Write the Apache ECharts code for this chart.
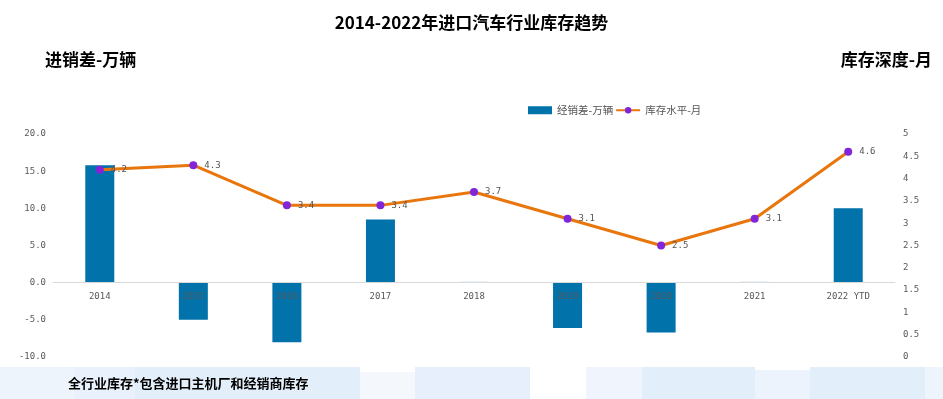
<!DOCTYPE html>
<html>
<head>
<meta charset="utf-8">
<script src="https://cdn.jsdelivr.net/npm/echarts@6/dist/echarts.min.js"></script>
<style>
html, body { margin: 0; padding: 0; background: #fff; }
#main { width: 943px; height: 399px; }
</style>
</head>
<body>
<div id="main"></div>
<script>
// 数据
var years = ["2014", "2015", "2016", "2017", "2018", "2019", "2020", "2021", "2022 YTD"];
var diffValues = [15.8, -5.0, -8.0, 8.5, 0.1, -6.1, -6.7, 0.1, 10.0];
var stockValues = [4.2, 4.3, 3.4, 3.4, 3.7, 3.1, 2.5, 3.1, 4.6];
var leftTicks = [-10, 20, 5];
var rightTicks = [0, 5, 0.5];

var monoFont = "DejaVu Sans Mono";
var cjkFont = "Noto Sans CJK SC";

var gridTop = 134, gridBottom = 42;
var gridHeight = 399 - gridTop - gridBottom;
// x 轴放到左轴 0 的位置
var zeroOffset = -(0 - leftTicks[0]) / (leftTicks[1] - leftTicks[0]) * gridHeight;

var myChart = echarts.init(document.getElementById("main"));

// 底部浅蓝色色块
var bands = [
    [0, 367, 75, 32, "#eef4fc"],
    [75, 367, 60, 32, "#e9f1fc"],
    [135, 367, 225, 32, "#e3eefb"],
    [360, 372, 55, 27, "#f4f8fd"],
    [415, 367, 115, 32, "#e6effb"],
    [586, 367, 56, 32, "#f0f5fd"],
    [642, 367, 113, 32, "#e3eefb"],
    [755, 370, 55, 29, "#edf3fc"],
    [810, 367, 115, 32, "#e3eefb"],
    [925, 367, 18, 32, "#eef4fc"]
];
var graphics = bands.map(function (b) {
    return {
        type: "rect",
        z: -10,
        shape: { x: b[0], y: b[1], width: b[2], height: b[3] },
        style: { fill: b[4] }
    };
});
graphics.push(
    {
        type: "text", left: 45, top: 51,
        style: { text: "进销差-万辆", font: "bold 17px " + cjkFont, fill: "#000" }
    },
    {
        type: "text", right: 11, top: 51,
        style: { text: "库存深度-月", font: "bold 17px " + cjkFont, fill: "#000" }
    },
    {
        type: "text", left: 68, top: 377,
        style: { text: "全行业库存*包含进口主机厂和经销商库存", font: "bold 13px " + cjkFont, fill: "#000" }
    }
);

var option = {
    backgroundColor: "#fff",
    title: {
        text: "2014-2022年进口汽车行业库存趋势",
        left: "center",
        top: 9,
        textStyle: { fontFamily: cjkFont, fontSize: 17, fontWeight: "bold", color: "#000" }
    },
    legend: {
        left: 523,
        top: 100,
        itemGap: 2,
        itemWidth: 24,
        itemHeight: 8,
        textStyle: { fontFamily: cjkFont, fontSize: 10.5, color: "#555" },
        data: [{ name: "经销差-万辆", icon: "rect" }, "库存水平-月"]
    },
    graphic: graphics,
    grid: { left: 53, right: 48, top: gridTop, bottom: gridBottom },
    xAxis: {
        type: "category",
        data: years,
        z: 5,
        offset: zeroOffset,
        axisLine: { onZero: false, lineStyle: { color: "#d9d9d9", width: 1 } },
        axisTick: { show: false },
        axisLabel: { fontFamily: monoFont, fontSize: 9, color: "#595959", margin: 9 }
    },
    yAxis: [
        {
            type: "value",
            min: leftTicks[0],
            max: leftTicks[1],
            interval: leftTicks[2],
            splitLine: { show: false },
            axisLine: { show: false },
            axisTick: { show: false },
            axisLabel: {
                fontFamily: monoFont, fontSize: 9, color: "#595959", margin: 7,
                formatter: function (v) { return v.toFixed(1); }
            }
        },
        {
            type: "value",
            min: rightTicks[0],
            max: rightTicks[1],
            interval: rightTicks[2],
            splitLine: { show: false },
            axisLine: { show: false },
            axisTick: { show: false },
            axisLabel: { fontFamily: monoFont, fontSize: 9, color: "#595959", margin: 8 }
        }
    ],
    series: [
        {
            name: "经销差-万辆",
            type: "bar",
            yAxisIndex: 0,
            barWidth: 29,
            itemStyle: { color: "#0172aa" },
            data: diffValues
        },
        {
            name: "库存水平-月",
            type: "line",
            yAxisIndex: 1,
            symbol: "circle",
            symbolSize: 8,
            z: 4,
            lineStyle: { color: "#e8760c", width: 3 },
            itemStyle: { color: "#8224d9" },
            label: {
                show: true,
                position: "right",
                distance: 7,
                fontFamily: monoFont,
                fontSize: 9,
                color: "#555"
            },
            data: stockValues
        }
    ]
};
myChart.setOption(option);
</script>
</body>
</html>
